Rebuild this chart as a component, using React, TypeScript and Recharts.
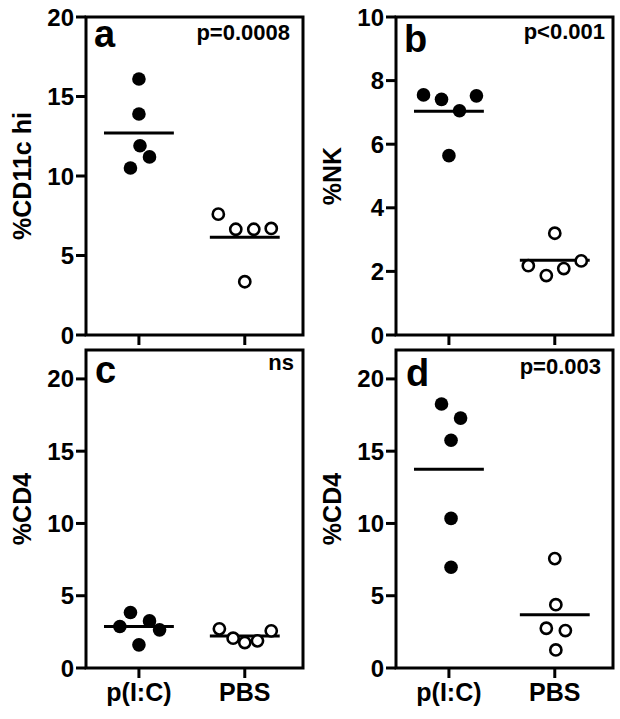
import { ScatterChart, Scatter, XAxis, YAxis, ReferenceArea, ReferenceLine } from 'recharts'

const groups = ['p(I:C)', 'PBS']

// a: %CD11c hi
const aPolyX = [1.0, 1.0, 1.01, 1.1, 0.92]
const aPolyY = [16.1, 13.9, 11.9, 11.2, 10.5]
const aPbsX = [1.75, 1.915, 2.085, 2.25, 2.0]
const aPbsY = [7.6, 6.65, 6.65, 6.7, 3.35]
const aMeans = [12.7, 6.15]

// b: %NK
const bPolyX = [0.76, 0.93, 1.1, 1.26, 1.0]
const bPolyY = [7.55, 7.41, 7.05, 7.52, 5.64]
const bPbsX = [2.0, 1.75, 1.92, 2.085, 2.25]
const bPbsY = [3.2, 2.18, 1.87, 2.09, 2.33]
const bMeans = [7.04, 2.35]

// c: %CD4
const cPolyX = [0.92, 0.82, 1.1, 1.195, 1.0]
const cPolyY = [3.84, 2.87, 3.26, 2.64, 1.6]
const cPbsX = [1.76, 1.89, 2.0, 2.12, 2.25]
const cPbsY = [2.71, 2.06, 1.76, 1.88, 2.57]
const cMeans = [2.87, 2.22]

// d: %CD4
const dPolyX = [0.93, 1.11, 1.02, 1.02, 1.02]
const dPolyY = [18.26, 17.29, 15.76, 10.35, 6.97]
const dPbsX = [2.0, 2.01, 1.92, 2.1, 2.01]
const dPbsY = [7.57, 4.38, 2.75, 2.59, 1.25]
const dMeans = [13.75, 3.68]

const FONT = '"Liberation Sans", Arial, Helvetica, sans-serif'
const HALF = 0.33

const zip = (xs: number[], ys: number[]) => xs.map((x, i) => ({ x, y: ys[i] }))

const filledDot = (p: any) => <circle cx={p.cx} cy={p.cy} r={6.8} fill="#000" />
const openDot = (p: any) => (
  <circle cx={p.cx} cy={p.cy} r={5.6} fill="#fff" stroke="#000" strokeWidth={2.6} />
)

function PanelText(props: any) {
  const vb = props.viewBox
  const { letter, letterDx, letterDy, note, noteDx, noteDy } = props
  return (
    <g fontFamily={FONT} fontWeight={700} fill="#000">
      <text x={vb.x + letterDx} y={vb.y + letterDy} fontSize={38}>
        {letter}
      </text>
      <text x={vb.x + vb.width + noteDx} y={vb.y + noteDy} fontSize={22} textAnchor="end">
        {note}
      </text>
    </g>
  )
}

function YTitle(props: any) {
  const vb = props.viewBox
  const cx = vb.x + 22
  const cy = vb.y + vb.height / 2
  return (
    <text
      x={cx}
      y={cy}
      transform={`rotate(-90, ${cx}, ${cy})`}
      textAnchor="middle"
      dominantBaseline="central"
      fontFamily={FONT}
      fontWeight={700}
      fontSize={25}
      fill="#000"
    >
      {props.text}
    </text>
  )
}

type PanelProps = {
  left: number
  top: number
  height: number
  marginTop: number
  xAxisHeight: number
  marginBottom: number
  yMax: number
  yTicks: number[]
  yLabel: string
  letter: string
  letterDx: number
  letterDy: number
  note: string
  noteDx: number
  noteDy: number
  showX: boolean
  polyX: number[]
  polyY: number[]
  pbsX: number[]
  pbsY: number[]
  means: number[]
}

function Panel(p: PanelProps) {
  const tickStyle = { fill: '#000', fontSize: 24, fontWeight: 700, fontFamily: FONT }
  return (
    <div style={{ position: 'absolute', left: p.left, top: p.top }}>
      <ScatterChart
        width={310}
        height={p.height}
        margin={{ top: p.marginTop, right: 7, bottom: p.marginBottom, left: 0 }}
      >
        <XAxis
          type="number"
          dataKey="x"
          domain={[0.5, 2.55]}
          ticks={[1, 2]}
          allowDataOverflow
          height={p.xAxisHeight}
          axisLine={false}
          tickSize={10}
          tickMargin={5}
          tickLine={{ stroke: '#000', strokeWidth: 3 }}
          tick={{ ...tickStyle, fontSize: 25 }}
          tickFormatter={(v: number) => (p.showX ? groups[v - 1] : '')}
        />
        <YAxis
          type="number"
          dataKey="y"
          domain={[0, p.yMax]}
          ticks={p.yTicks}
          allowDataOverflow
          width={86}
          axisLine={false}
          tickSize={10}
          tickMargin={2}
          tickLine={{ stroke: '#000', strokeWidth: 3 }}
          tick={tickStyle}
          label={<YTitle text={p.yLabel} />}
        />
        <ReferenceArea
          x1={0.5}
          x2={2.55}
          y1={0}
          y2={p.yMax}
          fill="none"
          stroke="#000"
          strokeWidth={3}
          ifOverflow="visible"
          label={
            <PanelText
              letter={p.letter}
              letterDx={p.letterDx}
              letterDy={p.letterDy}
              note={p.note}
              noteDx={p.noteDx}
              noteDy={p.noteDy}
            />
          }
        />
        <Scatter data={zip(p.polyX, p.polyY)} shape={filledDot} isAnimationActive={false} />
        <Scatter data={zip(p.pbsX, p.pbsY)} shape={openDot} isAnimationActive={false} />
        {p.means.map((m, i) => (
          <ReferenceLine
            key={i}
            segment={[
              { x: i + 1 - HALF, y: m },
              { x: i + 1 + HALF, y: m },
            ]}
            stroke="#000"
            strokeWidth={3}
          />
        ))}
      </ScatterChart>
    </div>
  )
}

export default function App() {
  const top = { top: 0, height: 350, marginTop: 17, xAxisHeight: 15, marginBottom: 0, showX: false }
  const bottom = { top: 345, height: 374, marginTop: 5, xAxisHeight: 45, marginBottom: 6, showX: true }
  return (
    <div style={{ position: 'absolute', left: 0, top: 0, width: 620, height: 719, background: '#fff' }}>
      <Panel
        {...top}
        left={0}
        yMax={20}
        yTicks={[0, 5, 10, 15, 20]}
        yLabel="%CD11c hi"
        letter="a"
        letterDx={8}
        letterDy={30}
        note="p=0.0008"
        noteDx={-13}
        noteDy={23}
        polyX={aPolyX}
        polyY={aPolyY}
        pbsX={aPbsX}
        pbsY={aPbsY}
        means={aMeans}
      />
      <Panel
        {...top}
        left={310}
        yMax={10}
        yTicks={[0, 2, 4, 6, 8, 10]}
        yLabel="%NK"
        letter="b"
        letterDx={8}
        letterDy={35}
        note="p<0.001"
        noteDx={-8}
        noteDy={22}
        polyX={bPolyX}
        polyY={bPolyY}
        pbsX={bPbsX}
        pbsY={bPbsY}
        means={bMeans}
      />
      <Panel
        {...bottom}
        left={0}
        yMax={22}
        yTicks={[0, 5, 10, 15, 20]}
        yLabel="%CD4"
        letter="c"
        letterDx={9}
        letterDy={33}
        note="ns"
        noteDx={-9}
        noteDy={20}
        polyX={cPolyX}
        polyY={cPolyY}
        pbsX={cPbsX}
        pbsY={cPbsY}
        means={cMeans}
      />
      <Panel
        {...bottom}
        left={310}
        yMax={22}
        yTicks={[0, 5, 10, 15, 20]}
        yLabel="%CD4"
        letter="d"
        letterDx={10}
        letterDy={36}
        note="p=0.003"
        noteDx={-12}
        noteDy={24}
        polyX={dPolyX}
        polyY={dPolyY}
        pbsX={dPbsX}
        pbsY={dPbsY}
        means={dMeans}
      />
    </div>
  )
}
